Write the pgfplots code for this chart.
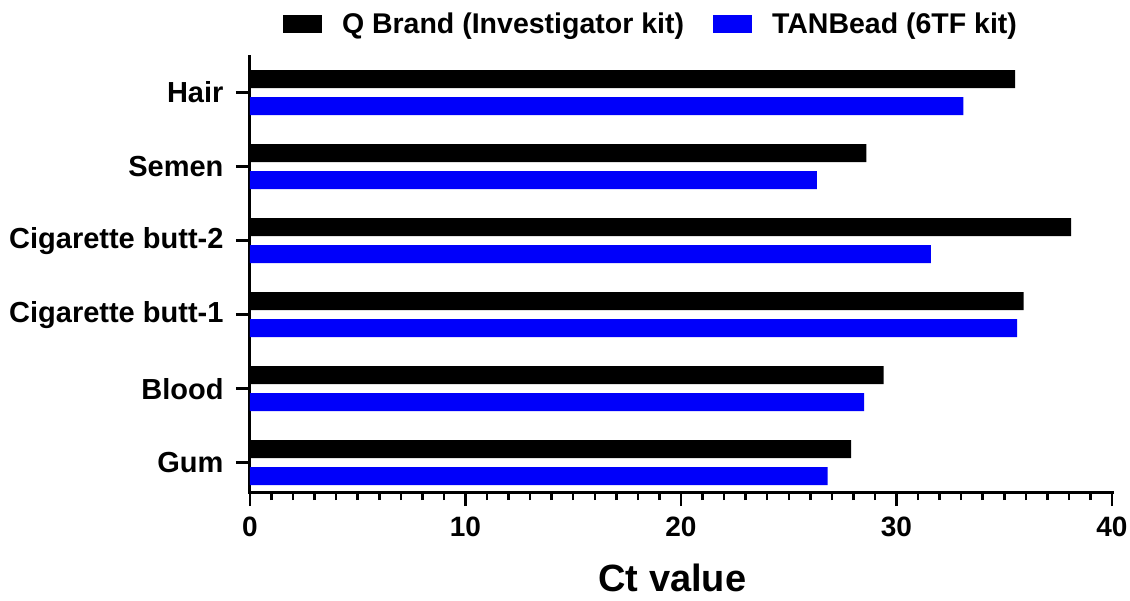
\documentclass[border=0pt]{standalone}
\usepackage{fontspec}
\setmainfont{Liberation Sans}
\usepackage{pgfplots}
\usepackage{pgfplotstable}
\pgfplotsset{compat=1.18}

\definecolor{tanblue}{RGB}{0,0,250}
\newcommand\fs[1]{\fontsize{#1bp}{#1bp}\selectfont\bfseries}

% y: 0 = Gum ... 5 = Hair
\pgfplotstableread{
y  q    tan
0  27.9 26.8
1  29.4 28.5
2  35.9 35.6
3  38.1 31.6
4  28.6 26.3
5  35.5 33.1
}\ctdata

\begin{document}
\begin{tikzpicture}
\begin{axis}[
    scale only axis,
    width=862bp, height=435bp,
    xmin=0, xmax=40,
    ymin=-0.396, ymax=5.48,
    axis lines*=left,
    axis line style={line width=3bp, line cap=rect},
    xtick={0,10,...,40},
    minor x tick num=9,
    ytick={0,...,5},
    yticklabels={Gum,Blood,Cigarette butt-1,Cigarette butt-2,Semen,Hair},
    tick align=outside,
    major tick length=14bp,
    minor tick length=8bp,
    tick style={line width=2.5bp, black},
    /pgf/number format/assume math mode=true,
    xticklabel style={font=\fs{28}, yshift=-7bp},
    yticklabel style={font=\fs{29}, xshift=-9bp},
    xlabel={Ct value},
    xlabel style={font=\fs{38}, at={(axis description cs:0.49,-0.198)}, anchor=center},
    legend columns=2,
    legend style={draw=none, fill=none, inner sep=0pt, outer sep=0pt,
        at={(axis description cs:0.0383,1.076)}, anchor=west,
        font=\fs{28.5},
        nodes={inner sep=0pt},
        /tikz/every odd column/.style={column sep=20bp},
        /tikz/every even column/.style={column sep=29bp}},
    legend image code/.code={\fill[#1] (0bp,-9bp) rectangle (39bp,9bp);},
]
\addplot[xbar, bar width=0.243, bar shift=0.182, fill=black, draw=none]
    table[x=q, y=y] {\ctdata};
\addlegendentry{Q Brand (Investigator kit)}
\addplot[xbar, bar width=0.243, bar shift=-0.182, fill=tanblue, draw=none]
    table[x=tan, y=y] {\ctdata};
\addlegendentry{TANBead (6TF kit)}
\coordinate (bl) at (rel axis cs:0,0);
\coordinate (tr) at (rel axis cs:1,1);
\end{axis}
\pgfresetboundingbox
\path[use as bounding box] ([shift={(-250bp,-109bp)}]bl) rectangle ([shift={(18bp,57bp)}]tr);
\end{tikzpicture}
\end{document}
